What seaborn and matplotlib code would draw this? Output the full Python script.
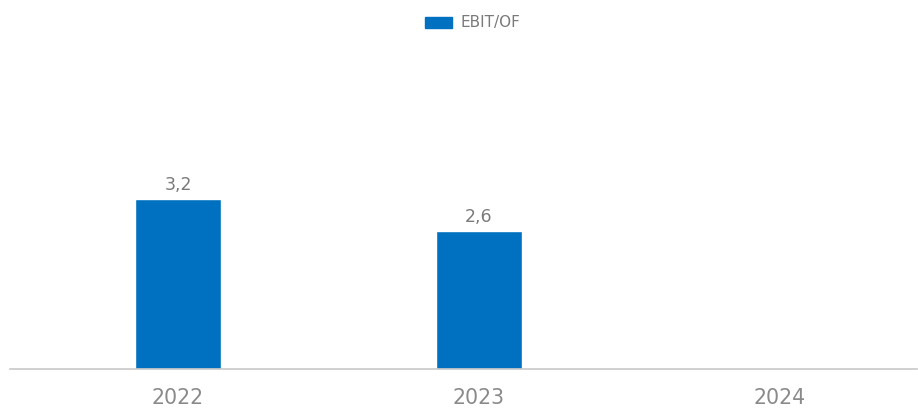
import numpy as np
import pandas as pd
import matplotlib
matplotlib.use("Agg")
import matplotlib.pyplot as plt
import seaborn as sns
from matplotlib.patches import Patch

years = ["2022", "2023", "2024"]
ebit_of = [3.2, 2.6, np.nan]
series_name = "EBIT/OF"

sns.set_theme(style="white")
plt.rcParams["font.family"] = ["DejaVu Sans"]

bar_color = "#0070C0"
df = pd.DataFrame({"year": years, "value": ebit_of})

fig = plt.figure(figsize=(9.18, 4.08), dpi=100)
ax = fig.add_axes([10 / 918, 39 / 408, 907 / 918, 309 / 408])

sns.barplot(data=df, x="year", y="value", order=years, color=bar_color,
            width=0.285, saturation=1, ax=ax)

for i, v in enumerate(ebit_of):
    if not np.isnan(v):
        ax.text(i, v + 0.1, f"{v:.1f}".replace(".", ","), ha="center",
                va="bottom", fontsize=12.5, color="#7a7a7a")

ax.set_xlim(-0.558, 2.455)
ax.set_ylim(0, 5.82)
ax.set_xlabel("")
ax.set_ylabel("")
ax.set_yticks([])
for s in ["top", "right", "left"]:
    ax.spines[s].set_visible(False)
ax.spines["bottom"].set_color("#c8c8c8")
ax.spines["bottom"].set_linewidth(1.2)
ax.tick_params(axis="x", length=0, pad=14, labelsize=14.8, labelcolor="#8a8a8a")

fig.legend(handles=[Patch(color=bar_color, label=series_name)],
           loc="center", bbox_to_anchor=(472.5 / 918, 1 - 23 / 408),
           frameon=False, fontsize=11, labelcolor="#7a7a7a",
           handlelength=1.77, handleheight=0.72, handletextpad=0.52)

fig.savefig("out.png", dpi=100)
